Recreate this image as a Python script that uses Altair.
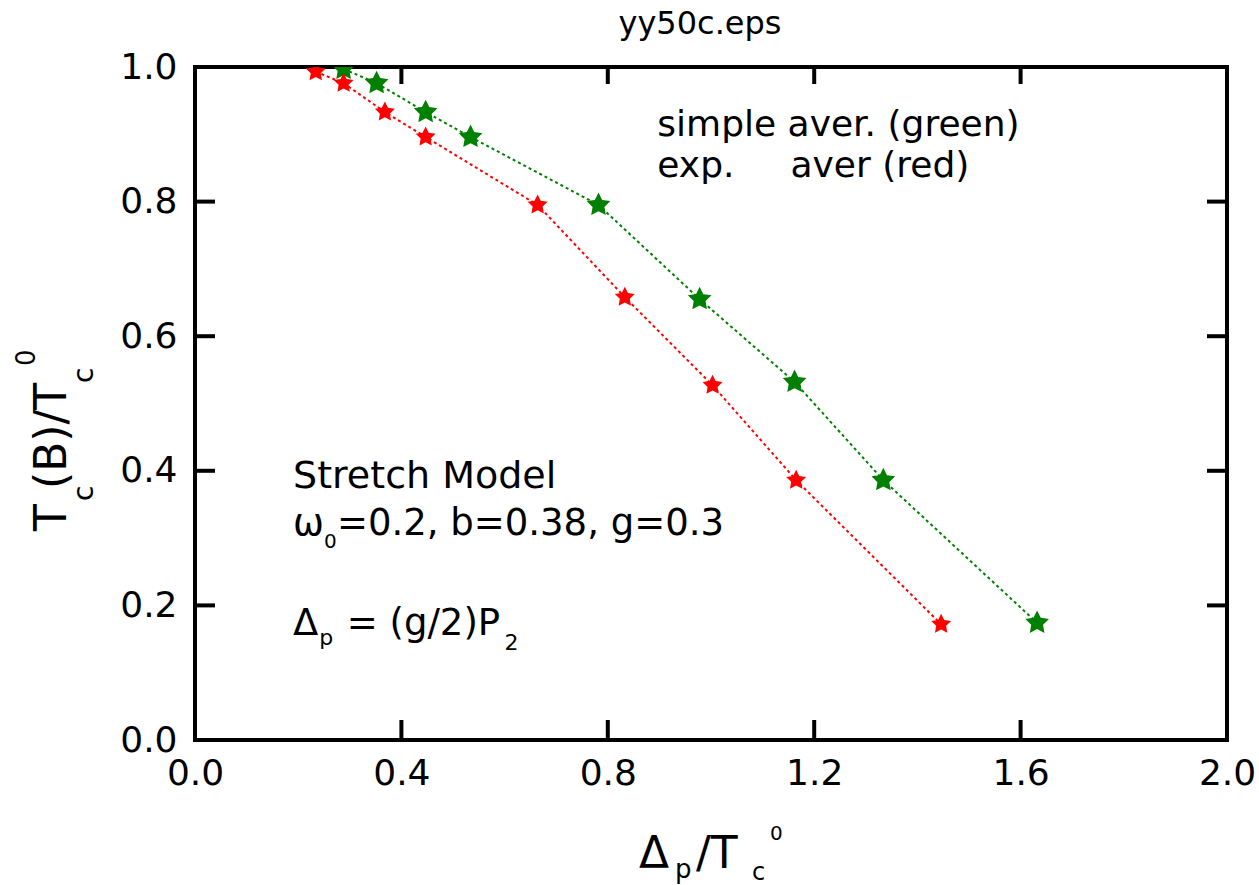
import altair as alt
import pandas as pd

# ---- data ----
red_x = [0.234, 0.288, 0.368, 0.447, 0.664, 0.833, 1.003, 1.165, 1.446]
red_y = [0.993, 0.976, 0.933, 0.896, 0.795, 0.658, 0.527, 0.386, 0.172]
green_x = [0.288, 0.352, 0.447, 0.534, 0.782, 0.978, 1.162, 1.334, 1.632]
green_y = [0.997, 0.976, 0.933, 0.896, 0.795, 0.655, 0.532, 0.386, 0.174]

x_tick_values = [0.0, 0.4, 0.8, 1.2, 1.6, 2.0]
y_tick_values = [0.0, 0.2, 0.4, 0.6, 0.8, 1.0]
inner_x_ticks = [0.4, 0.8, 1.2, 1.6]
inner_y_ticks = [0.2, 0.4, 0.6, 0.8]

W, H = 1032, 673
FONT = "DejaVu Sans"
STAR = ("M0,-1 L0.294,-0.405 L0.951,-0.309 L0.476,0.155 L0.588,0.809 L0,0.5 "
        "L-0.588,0.809 L-0.476,0.155 L-0.951,-0.309 L-0.294,-0.405 Z")

red = pd.DataFrame({"x": red_x, "y": red_y})
green = pd.DataFrame({"x": green_x, "y": green_y})

xs = alt.Scale(domain=[0, 2], nice=False, zero=False)
ys = alt.Scale(domain=[0, 1], nice=False, zero=False)

x_axis = alt.Axis(values=x_tick_values, format=".1f", ticks=False, domain=False, grid=False,
                  labelFontSize=36, labelFont=FONT, labelColor="black", labelPadding=16,
                  labelFlush=False, labelOverlap=False, title=None)
y_axis = alt.Axis(values=y_tick_values, format=".1f", ticks=False, domain=False, grid=False,
                  labelFontSize=36, labelFont=FONT, labelColor="black", labelPadding=18,
                  labelFlush=False, labelOverlap=False, title=None)


def X(field):
    return alt.X(field, scale=xs, axis=x_axis)


def Y(field):
    return alt.Y(field, scale=ys, axis=y_axis)


def series_line(df, color):
    return alt.Chart(df).mark_line(color=color, strokeWidth=2, strokeDash=[3, 3], clip=True).encode(
        x=X("x:Q"), y=Y("y:Q"))


def series_points(df, color, size):
    return alt.Chart(df).mark_point(shape=STAR, filled=True, color=color, size=size,
                                    opacity=1, clip=True).encode(x=X("x:Q"), y=Y("y:Q"))


# inward ticks on all four sides
xt = pd.DataFrame({"v": inner_x_ticks})
yt = pd.DataFrame({"v": inner_y_ticks})
tick_style = dict(color="black", strokeWidth=4)
ticks_bottom = alt.Chart(xt).mark_rule(**tick_style).encode(
    x=X("v:Q"), y=alt.value(H), y2=alt.value(H - 20))
ticks_top = alt.Chart(xt).mark_rule(**tick_style).encode(
    x=X("v:Q"), y=alt.value(0), y2=alt.value(17))
ticks_left = alt.Chart(yt).mark_rule(**tick_style).encode(
    y=Y("v:Q"), x=alt.value(0), x2=alt.value(20))
ticks_right = alt.Chart(yt).mark_rule(**tick_style).encode(
    y=Y("v:Q"), x=alt.value(W), x2=alt.value(W - 20))


def note(text, x, y, size=37):
    return alt.Chart(pd.DataFrame({"x": [x], "y": [y], "t": [text]})).mark_text(
        font=FONT, fontSize=size, align="left", baseline="alphabetic", color="black").encode(
        x=X("x:Q"), y=Y("y:Q"), text="t:N")


notes = [
    note("simple aver. (green)", 0.896, 0.8975, 36),
    note("exp.", 0.896, 0.8366, 36),
    note("aver (red)", 1.154, 0.8366, 36),
    note("Stretch Model", 0.19, 0.3745, 38),
    note("ω", 0.19, 0.3046),
    note("0", 0.250, 0.2853, 20),
    note("=0.2, b=0.38, g=0.3", 0.275, 0.3046),
    note("Δ", 0.19, 0.156),
    note("p", 0.241, 0.141, 22),
    note("= (g/2)P", 0.294, 0.156),
    note("2", 0.600, 0.1337, 22),
]


def px_text(text, px, py, size, angle=0, align="left"):
    return alt.Chart(pd.DataFrame({"t": [text]})).mark_text(
        font=FONT, fontSize=size, align=align, baseline="alphabetic", color="black",
        angle=angle).encode(x=alt.value(px), y=alt.value(py), text="t:N")


# titles with sub/superscripts (pixel positions relative to plot origin)
OX, OY = 195, 67
chart_title = px_text("yy50c.eps", 700 - OX, 34 - OY, 32, align="center")
y_title = [
    px_text("T", 66 - OX, 531 - OY, 44, 270),
    px_text("c", 93 - OX, 501 - OY, 28, 270),
    px_text("(B)/T", 66 - OX, 489 - OY, 44, 270),
    px_text("c", 93 - OX, 383 - OY, 28, 270),
    px_text("0", 35 - OX, 366 - OY, 26, 270),
]
x_title = [
    px_text("Δ", 639 - OX, 868 - OY, 44),
    px_text("p", 675 - OX, 878 - OY, 26),
    px_text("/T", 696 - OX, 868 - OY, 44),
    px_text("c", 752 - OX, 880 - OY, 24),
    px_text("0", 770 - OX, 840 - OY, 20),
]

layers = [series_line(green, "#008000"), series_line(red, "#ff0000"),
          ticks_bottom, ticks_top, ticks_left, ticks_right,
          series_points(green, "#008000", 620), series_points(red, "#ff0000", 440)]
layers += notes + y_title + x_title + [chart_title]

chart = alt.layer(*layers).properties(
    width=W, height=H,
    padding={"left": 195, "top": 67, "right": 32, "bottom": 145},
    autosize=alt.AutoSizeParams(type="none"),
).configure_view(stroke="black", strokeWidth=4)

chart.save("out.html", embed_options={"renderer": "svg", "actions": False})
